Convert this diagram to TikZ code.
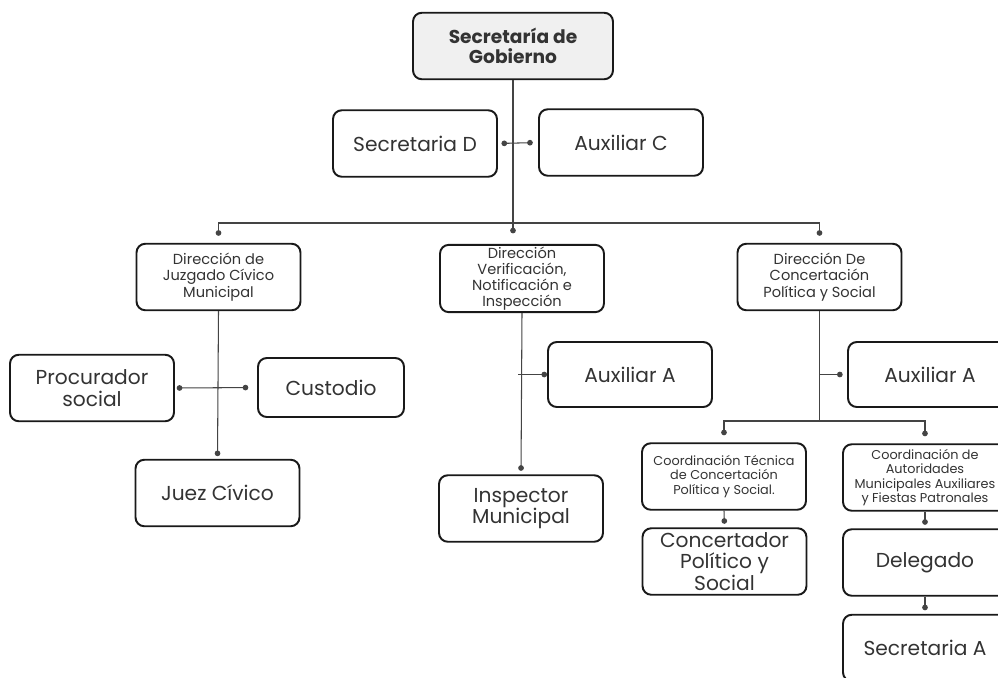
\documentclass[tikz,border=0pt]{standalone}
\usepackage{fontspec}
\setmainfont{Poppins}
\usetikzlibrary{arrows.meta}

\definecolor{ink}{HTML}{333333}
\definecolor{wire}{HTML}{444444}

\tikzstyle{box}=[rectangle, rounded corners=5pt, draw=black!90, line width=1.1pt, align=center, text=ink, minimum width=3.28cm, minimum height=1.33cm, inner sep=1pt]
\tikzstyle{head}=[box, fill=gray!12, minimum width=4cm, font=\bfseries\fontsize{10.6}{11.6}\selectfont]
\tikzstyle{big}=[box, font=\fontsize{11.5}{12.4}\selectfont]
\tikzstyle{mid}=[box, font=\fontsize{8.3}{9.2}\selectfont]
\tikzstyle{tiny}=[box, font=\fontsize{7.3}{8.1}\selectfont]
\tikzstyle{link}=[draw=wire, line width=0.6pt, -{Circle[length=3.2pt]}]
\tikzstyle{pair}=[draw=wire, line width=0.6pt, {Circle[length=3.2pt]}-{Circle[length=3.2pt]}]

\begin{document}
\begin{tikzpicture}[x=0.02cm, y=-0.02cm]
	\useasboundingbox [fill=white] (0,0) rectangle (998,677);

	\node (gob) at (513,46) [head] {Secretaría de\\Gobierno};

	\node (secD) at (415,143.5) [big] {Secretaria D};
	\node (auxC) at (621,142.5) [big] {Auxiliar C};

		\node (juz) at (218.5,277) [mid] {Dirección de\\Juzgado Cívico\\Municipal};
		\node (ver) at (522,278.5) [mid] {Dirección\\Verificación,\\Notificación e\\Inspección};
		\node (con) at (819.5,277) [mid] {Dirección De\\Concertación\\Política y Social};

		\node (proc) at (92,388) [big] {Procurador\\social};
		\node (cust) at (331,387.5) [big, minimum width=2.92cm, minimum height=1.18cm] {Custodio};
		\node (juez) at (217.5,493) [big] {Juez Cívico};

		\node (auxA1) at (630,374.5) [big, minimum height=1.3cm] {Auxiliar A};
		\node (insp) at (521,508.5) [big] {Inspector\\Municipal};

		\node (auxA2) at (930,374.5) [big, minimum height=1.3cm] {Auxiliar A};
		\node (coordT) at (724,476.5) [tiny] {Coordinación Técnica\\de Concertación\\Política y Social.};
		\node (coordA) at (925,477.5) [tiny] {Coordinación de\\Autoridades\\Municipales Auxiliares\\y Fiestas Patronales};
		\node (concP) at (724.5,561.5) [big] {Concertador\\Político y\\Social};
		\node (dele) at (925,562.5) [big] {Delegado};
		\node (secA) at (925,648) [big] {Secretaria A};

	% trunk and first level
	\draw [link, shorten >=6pt] (gob.south) -- (gob.south |- ver.north);
	\draw [pair, shorten <=2pt, shorten >=3pt] (secD.east) -- (auxC.west);
	\draw [link, shorten >=4pt] (gob.south |- 0,223) -| (juz.north);
	\draw [link, shorten >=4pt] (gob.south |- 0,223) -| (con.north);

	% juzgado
	\draw [link, shorten >=1.5pt] (juz.south) -- (juez.north);
	\draw [pair, shorten <=1pt, shorten >=5pt] (proc.east) -- (cust.west);

	% verificacion
	\draw [link, shorten >=2pt] (ver.south) -- (insp.north);
	\draw [link, shorten <=-2pt] (ver.south |- auxA1.west) -- (auxA1.west);

	% concertacion
	\draw [link, shorten >=2.5pt] (con.south |- auxA2.west) -- (auxA2.west);
	\draw [draw=wire, line width=0.6pt] (con.south) -- (con.south |- 0,421);
	\draw [link, shorten >=4pt] (con.south |- 0,421) -| (coordT.north);
	\draw [link, shorten >=4pt] (con.south |- 0,421) -| (coordA.north);

	\draw [link, shorten >=2pt] (coordT.south) -- (concP.north);
	\draw [link, shorten >=2pt] (coordA.south) -- (dele.north);
	\draw [link, shorten >=2pt] (dele.south) -- (secA.north);

\end{tikzpicture}
\end{document}
